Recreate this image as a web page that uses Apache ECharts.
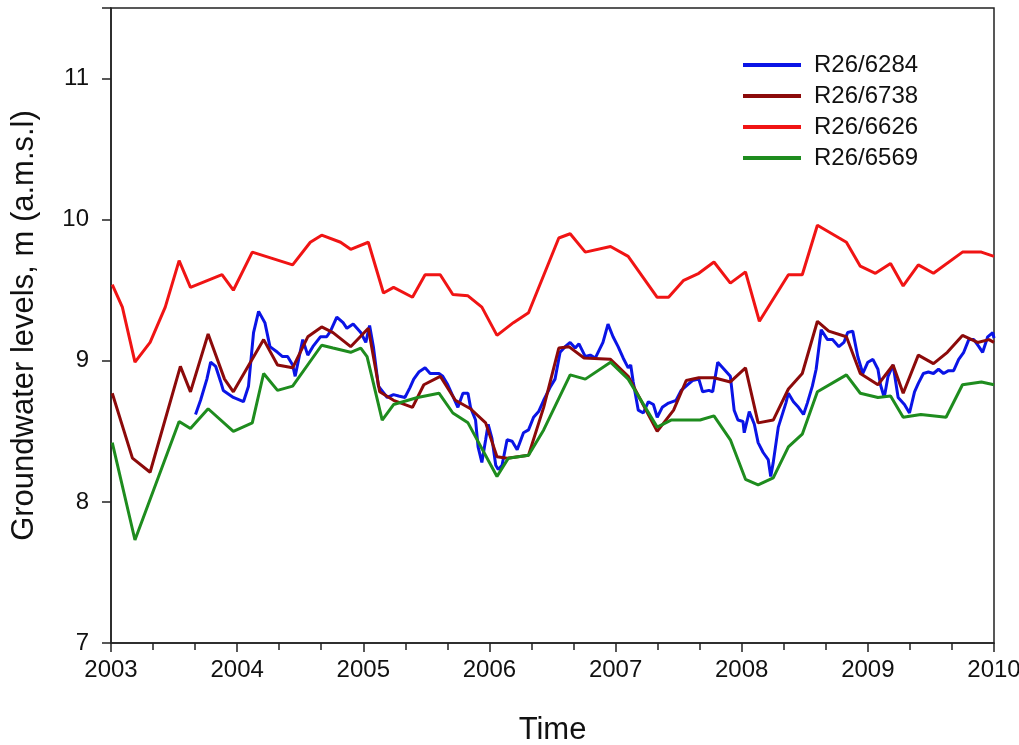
<!DOCTYPE html>
<html>
<head>
    <meta charset="utf-8">
    <title>Groundwater levels</title>
    <script src="https://cdn.jsdelivr.net/npm/echarts@6/dist/echarts.min.js"></script>
</head>
<body style="margin:0">
    <div id="div_chart" style="width: 1019px; height:745px;"></div>

    <script type="text/javascript">
        // decimal years and levels (m a.m.s.l)
        var years6284 = [2003.67, 2003.71, 2003.76, 2003.79, 2003.83, 2003.87, 2003.89, 2003.97, 2004.05, 2004.09,
            2004.13, 2004.17, 2004.22, 2004.26, 2004.32, 2004.36, 2004.40, 2004.44, 2004.46, 2004.52,
            2004.56, 2004.60, 2004.66, 2004.71, 2004.74, 2004.79, 2004.84, 2004.87, 2004.92, 2004.98,
            2005.02, 2005.05, 2005.08, 2005.12, 2005.19, 2005.24, 2005.28, 2005.33, 2005.37, 2005.40,
            2005.44, 2005.49, 2005.53, 2005.60, 2005.63, 2005.67, 2005.71, 2005.75, 2005.79, 2005.83,
            2005.85, 2005.89, 2005.91, 2005.94, 2005.97, 2005.99, 2006.02, 2006.05, 2006.07, 2006.10,
            2006.14, 2006.18, 2006.22, 2006.27, 2006.31, 2006.35, 2006.39, 2006.43, 2006.48, 2006.52,
            2006.56, 2006.60, 2006.64, 2006.68, 2006.71, 2006.76, 2006.80, 2006.84, 2006.90, 2006.94,
            2006.98, 2007.02, 2007.06, 2007.10, 2007.12, 2007.14, 2007.18, 2007.22, 2007.26, 2007.30,
            2007.33, 2007.37, 2007.42, 2007.48, 2007.52, 2007.57, 2007.61, 2007.66, 2007.69, 2007.74,
            2007.77, 2007.81, 2007.86, 2007.91, 2007.94, 2007.97, 2008.01, 2008.02, 2008.06, 2008.10,
            2008.13, 2008.17, 2008.21, 2008.23, 2008.25, 2008.29, 2008.35, 2008.37, 2008.41, 2008.45,
            2008.49, 2008.52, 2008.56, 2008.59, 2008.63, 2008.68, 2008.72, 2008.77, 2008.81, 2008.84,
            2008.88, 2008.92, 2008.96, 2009.00, 2009.04, 2009.08, 2009.10, 2009.13, 2009.16, 2009.20,
            2009.24, 2009.29, 2009.33, 2009.37, 2009.40, 2009.44, 2009.48, 2009.52, 2009.56, 2009.60,
            2009.64, 2009.68, 2009.72, 2009.76, 2009.80, 2009.84, 2009.88, 2009.91, 2009.95, 2009.99,
            2010.00];
        var levels6284 = [8.62, 8.72, 8.87, 8.99, 8.96, 8.85, 8.79, 8.74, 8.71, 8.82,
            9.20, 9.35, 9.27, 9.10, 9.06, 9.03, 9.03, 8.97, 8.89, 9.15,
            9.04, 9.10, 9.17, 9.17, 9.21, 9.31, 9.27, 9.23, 9.26, 9.20,
            9.13, 9.25, 9.10, 8.82, 8.74, 8.76, 8.75, 8.74, 8.81, 8.87,
            8.92, 8.95, 8.91, 8.91, 8.89, 8.83, 8.75, 8.67, 8.77, 8.77,
            8.67, 8.58, 8.39, 8.28, 8.44, 8.55, 8.45, 8.26, 8.23, 8.26,
            8.44, 8.43, 8.37, 8.49, 8.51, 8.60, 8.64, 8.72, 8.81, 8.87,
            9.06, 9.10, 9.13, 9.09, 9.12, 9.03, 9.04, 9.02, 9.13, 9.26,
            9.17, 9.10, 9.02, 8.95, 8.97, 8.85, 8.65, 8.63, 8.71, 8.69,
            8.60, 8.67, 8.70, 8.72, 8.79, 8.83, 8.86, 8.87, 8.78, 8.79,
            8.78, 8.99, 8.94, 8.89, 8.65, 8.58, 8.57, 8.49, 8.64, 8.55,
            8.42, 8.35, 8.30, 8.18, 8.28, 8.53, 8.70, 8.77, 8.71, 8.67,
            8.62, 8.70, 8.82, 8.94, 9.22, 9.15, 9.15, 9.10, 9.13, 9.20,
            9.21, 9.03, 8.91, 8.99, 9.01, 8.94, 8.83, 8.74, 8.89, 8.97,
            8.74, 8.69, 8.63, 8.78, 8.84, 8.91, 8.92, 8.91, 8.94, 8.91,
            8.93, 8.93, 9.01, 9.06, 9.15, 9.15, 9.10, 9.06, 9.17, 9.20,
            9.16];

        var years6738 = [2003.01, 2003.17, 2003.31, 2003.55, 2003.63, 2003.77, 2003.90, 2003.97, 2004.21, 2004.32,
            2004.44, 2004.56, 2004.67, 2004.76, 2004.90, 2005.04, 2005.13, 2005.24, 2005.39, 2005.48,
            2005.61, 2005.73, 2005.85, 2005.97, 2006.06, 2006.14, 2006.31, 2006.43, 2006.55, 2006.63,
            2006.75, 2006.96, 2007.10, 2007.20, 2007.33, 2007.46, 2007.56, 2007.66, 2007.78, 2007.91,
            2008.03, 2008.13, 2008.25, 2008.37, 2008.48, 2008.60, 2008.69, 2008.83, 2008.94, 2009.08,
            2009.20, 2009.28, 2009.40, 2009.52, 2009.63, 2009.75, 2009.87, 2009.96, 2010.00];
        var levels6738 = [8.77, 8.31, 8.21, 8.96, 8.78, 9.19, 8.87, 8.78, 9.15, 8.97,
            8.95, 9.17, 9.24, 9.20, 9.10, 9.23, 8.78, 8.72, 8.67, 8.83,
            8.89, 8.72, 8.66, 8.56, 8.32, 8.31, 8.33, 8.67, 9.09, 9.10,
            9.02, 9.01, 8.89, 8.72, 8.50, 8.65, 8.86, 8.88, 8.88, 8.85,
            8.95, 8.56, 8.58, 8.80, 8.91, 9.28, 9.21, 9.17, 8.91, 8.83,
            8.97, 8.77, 9.04, 8.98, 9.06, 9.18, 9.13, 9.15, 9.13];

        var years6626 = [2003.01, 2003.09, 2003.19, 2003.31, 2003.43, 2003.54, 2003.63, 2003.88, 2003.97, 2004.12,
            2004.44, 2004.58, 2004.67, 2004.82, 2004.90, 2005.04, 2005.16, 2005.24, 2005.39, 2005.49,
            2005.61, 2005.71, 2005.83, 2005.94, 2006.06, 2006.19, 2006.31, 2006.55, 2006.64, 2006.76,
            2006.96, 2007.10, 2007.33, 2007.42, 2007.54, 2007.66, 2007.78, 2007.91, 2008.03, 2008.14,
            2008.37, 2008.48, 2008.60, 2008.83, 2008.94, 2009.06, 2009.18, 2009.28, 2009.40, 2009.52,
            2009.75, 2009.90, 2010.00];
        var levels6626 = [9.54, 9.38, 8.99, 9.13, 9.38, 9.71, 9.52, 9.61, 9.50, 9.77,
            9.68, 9.84, 9.89, 9.84, 9.79, 9.84, 9.48, 9.52, 9.45, 9.61,
            9.61, 9.47, 9.46, 9.38, 9.18, 9.27, 9.34, 9.87, 9.90, 9.77,
            9.81, 9.74, 9.45, 9.45, 9.57, 9.62, 9.70, 9.55, 9.63, 9.28,
            9.61, 9.61, 9.96, 9.84, 9.67, 9.62, 9.69, 9.53, 9.68, 9.62,
            9.77, 9.77, 9.74];

        var years6569 = [2003.01, 2003.19, 2003.54, 2003.63, 2003.77, 2003.97, 2004.12, 2004.21, 2004.32, 2004.44,
            2004.67, 2004.76, 2004.90, 2004.98, 2005.03, 2005.15, 2005.24, 2005.43, 2005.60, 2005.71,
            2005.83, 2006.06, 2006.15, 2006.31, 2006.43, 2006.64, 2006.76, 2006.96, 2007.10, 2007.33,
            2007.44, 2007.67, 2007.78, 2007.91, 2008.03, 2008.13, 2008.25, 2008.37, 2008.48, 2008.60,
            2008.83, 2008.94, 2009.08, 2009.18, 2009.28, 2009.42, 2009.62, 2009.75, 2009.90, 2010.00];
        var levels6569 = [8.42, 7.73, 8.57, 8.52, 8.66, 8.50, 8.56, 8.91, 8.79, 8.82,
            9.11, 9.09, 9.06, 9.09, 9.03, 8.58, 8.69, 8.74, 8.77, 8.63,
            8.56, 8.18, 8.31, 8.33, 8.51, 8.90, 8.87, 8.99, 8.87, 8.53,
            8.58, 8.58, 8.61, 8.44, 8.16, 8.12, 8.17, 8.39, 8.48, 8.78,
            8.90, 8.77, 8.74, 8.75, 8.60, 8.62, 8.60, 8.83, 8.85, 8.83];

        var wellNames = ['R26/6284', 'R26/6738', 'R26/6626', 'R26/6569'];
        var wellColors = ['#0a14e6', '#8c0a0a', '#f01414', '#1e8c1e'];
        var wellYears = [years6284, years6738, years6626, years6569];
        var wellLevels = [levels6284, levels6738, levels6626, levels6569];

        function pairs(xs, ys) {
            return xs.map(function (x, i) { return [x, ys[i]]; });
        }

        var font = 'Liberation Sans, Arial, sans-serif';
        var myChart = echarts.init(document.getElementById('div_chart'));

        myChart.setOption({
            animation: false,
            backgroundColor: '#fff',
            grid: {
                left: 111, right: 25, top: 8, bottom: 102,
                outerBoundsMode: 'none',
                show: true, borderColor: '#222', borderWidth: 1.5
            },
            legend: {
                orient: 'vertical',
                left: 743,
                top: 53,
                padding: 0,
                itemWidth: 58,
                itemHeight: 4,
                itemGap: 7,
                icon: 'rect',
                data: wellNames,
                textStyle: {
                    fontFamily: font, fontSize: 24, color: '#111',
                    lineHeight: 24, padding: [0, 0, 0, 8]
                }
            },
            xAxis: {
                type: 'value',
                min: 2003, max: 2010, interval: 1,
                name: 'Time',
                nameLocation: 'middle',
                nameGap: 72,
                nameTextStyle: { fontFamily: font, fontSize: 31, color: '#111' },
                axisLine: { lineStyle: { color: '#222', width: 1.5 } },
                axisTick: { length: 9, lineStyle: { color: '#222', width: 1.5 } },
                minorTick: { show: true, splitNumber: 3, length: 7, lineStyle: { color: '#222', width: 1.5 } },
                splitLine: { show: false },
                axisLabel: {
                    margin: 15, fontFamily: font, fontSize: 24, color: '#111',
                    formatter: function (v) { return String(v); }
                }
            },
            yAxis: {
                type: 'value',
                min: 7, max: 11.5, interval: 1,
                name: 'Groundwater levels, m (a.m.s.l)',
                nameLocation: 'middle',
                nameGap: 71,
                nameTextStyle: { fontFamily: font, fontSize: 31, color: '#111' },
                axisLine: { show: true, lineStyle: { color: '#222', width: 1.5 } },
                axisTick: { show: true, length: 9, lineStyle: { color: '#222', width: 1.5 } },
                splitLine: { show: false },
                axisLabel: {
                    margin: 22, fontFamily: font, fontSize: 24, color: '#111',
                    formatter: function (v) { return v % 1 === 0 ? String(v) : ''; }
                }
            },
            series: wellNames.map(function (name, i) {
                return {
                    name: name,
                    type: 'line',
                    symbol: 'none',
                    color: wellColors[i],
                    lineStyle: { width: 3, color: wellColors[i] },
                    data: pairs(wellYears[i], wellLevels[i])
                };
            })
        });
    </script>
</body>
</html>
